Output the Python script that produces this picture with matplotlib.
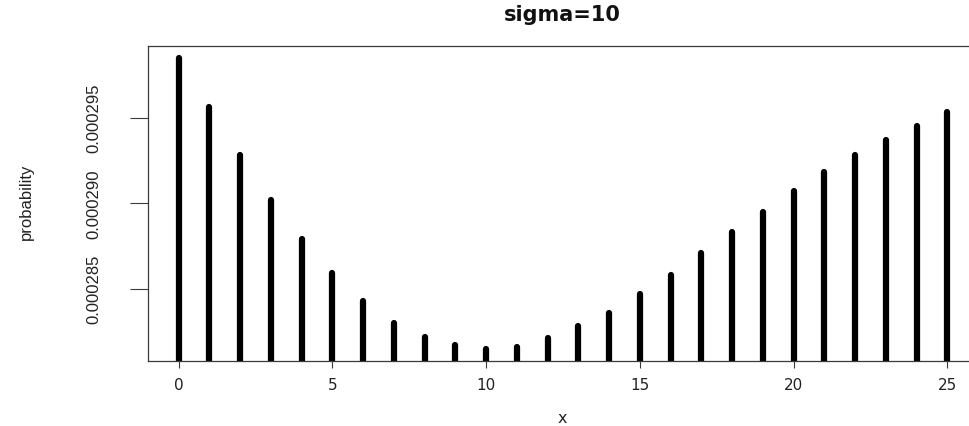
import matplotlib
matplotlib.use("Agg")
import matplotlib.pyplot as plt
import numpy as np

# values
x = list(range(26))
prob = [0.0002985, 0.0002956, 0.0002928, 0.0002902, 0.0002879, 0.0002859,
        0.0002843, 0.0002830, 0.0002822, 0.0002817, 0.0002815, 0.0002816,
        0.0002821, 0.0002828, 0.0002836, 0.0002847, 0.0002858, 0.0002871,
        0.0002883, 0.0002895, 0.0002907, 0.0002918, 0.0002928, 0.0002937,
        0.0002945, 0.0002953]
xticks = [0, 5, 10, 15, 20, 25]
yticks = [0.000285, 0.000290, 0.000295]
ytick_labels = ["0.000285", "0.000290", "0.000295"]

W, H = 970, 427
fig = plt.figure(figsize=(W / 100, H / 100), dpi=100)

# plot region in pixels (right edge runs off the picture, as in the reference)
left, right, top, bottom = 148, 978, 46.7, 361.7
ax = fig.add_axes([left / W, 1 - bottom / H, (right - left) / W, (bottom - top) / H])

# type="h" style: vertical lines from zero up to the value
lc = ax.vlines(x, 0, prob, colors="black", linewidth=4.5)
lc.set_capstyle("round")

ax.set_xlim(-1, 26)
ax.set_ylim(0.0002808, 0.0002992)

for sp in ax.spines.values():
    sp.set_color("#3a3a3a")
    sp.set_linewidth(0.9)

narrow = ["Liberation Sans Narrow", "Liberation Sans", "DejaVu Sans"]

ax.set_xticks(xticks)
ax.set_xticklabels([str(t) for t in xticks], family="DejaVu Sans", fontsize=11,
                   color="#222222", va="center")
ax.tick_params(axis="x", length=5, width=0.8, color="#3a3a3a", pad=12.2)

ax.set_yticks(yticks)
ax.set_yticklabels(ytick_labels, family=narrow, fontsize=12, color="#222222",
                   rotation=90, ha="center", va="center")
ax.tick_params(axis="y", length=13, width=0.8, color="#3a3a3a", pad=26)

fig.text(562 / W, 1 - 15 / H, "sigma=10", ha="center", va="center",
         fontsize=15, fontweight="bold", family="DejaVu Sans", color="#111111")
fig.text(562 / W, 1 - 419 / H, "x", ha="center", va="center",
         fontsize=11.5, family="DejaVu Sans", color="#222222")
fig.text(26 / W, 1 - 202 / H, "probability", ha="center", va="center",
         rotation=90, fontsize=12, family=narrow, color="#222222")

fig.savefig("out.png", dpi=100)
